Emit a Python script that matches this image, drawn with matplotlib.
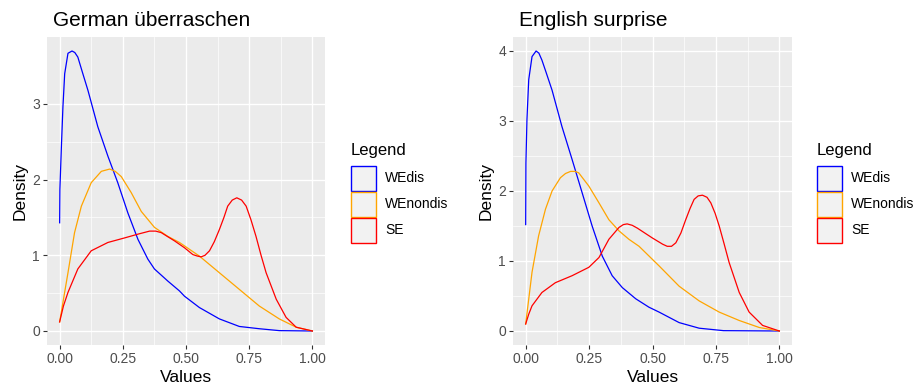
import matplotlib
matplotlib.use("Agg")
import matplotlib.pyplot as plt
from matplotlib.patches import Rectangle

plt.rcParams['font.family'] = ['Liberation Sans', 'DejaVu Sans']

# density values
x_de_dis = [0.0, 0.001, 0.007, 0.013, 0.02, 0.033, 0.049, 0.06, 0.072, 0.09, 0.112, 0.151, 0.191, 0.23, 0.27,
            0.31, 0.349, 0.375, 0.428, 0.474, 0.494, 0.553, 0.632, 0.711, 0.79, 0.869, 1.0]
de_dis = [1.43, 1.87, 2.44, 2.96, 3.40, 3.67, 3.70, 3.68, 3.62, 3.42, 3.18, 2.70, 2.31, 1.96, 1.56,
          1.21, 0.95, 0.82, 0.66, 0.53, 0.46, 0.31, 0.16, 0.06, 0.03, 0.005, 0.0]

x_de_nondis = [0.0, 0.033, 0.059, 0.086, 0.125, 0.165, 0.198, 0.22, 0.244, 0.283, 0.323, 0.375, 0.428, 0.474,
               0.553, 0.632, 0.711, 0.79, 0.869, 0.936, 1.0]
de_nondis = [0.12, 0.77, 1.30, 1.65, 1.96, 2.11, 2.14, 2.11, 2.04, 1.83, 1.58, 1.37, 1.25, 1.17,
             0.99, 0.77, 0.55, 0.33, 0.16, 0.05, 0.0]

x_de_se = [0.0, 0.015, 0.033, 0.072, 0.125, 0.191, 0.257, 0.31, 0.356, 0.38, 0.402, 0.455, 0.494, 0.527, 0.545,
           0.56, 0.575, 0.593, 0.612, 0.632, 0.65, 0.665, 0.683, 0.701, 0.72, 0.738, 0.757, 0.777, 0.797, 0.817,
           0.857, 0.896, 0.936, 1.0]
de_se = [0.12, 0.33, 0.51, 0.82, 1.06, 1.17, 1.23, 1.28, 1.32, 1.32, 1.30, 1.19, 1.10, 1.01, 0.99,
         0.98, 1.00, 1.06, 1.18, 1.34, 1.50, 1.65, 1.73, 1.76, 1.73, 1.65, 1.47, 1.25, 1.00, 0.77,
         0.42, 0.18, 0.05, 0.0]

x_en_dis = [0.0, 0.001, 0.005, 0.012, 0.025, 0.041, 0.052, 0.064, 0.08, 0.104, 0.143, 0.183, 0.223, 0.262, 0.302,
            0.341, 0.381, 0.434, 0.486, 0.526, 0.605, 0.684, 0.78, 1.0]
en_dis = [1.52, 2.40, 3.02, 3.59, 3.92, 4.00, 3.97, 3.87, 3.70, 3.44, 2.92, 2.45, 1.97, 1.50, 1.07,
          0.79, 0.62, 0.46, 0.34, 0.27, 0.12, 0.04, 0.005, 0.0]

x_en_nondis = [0.0, 0.025, 0.051, 0.078, 0.104, 0.137, 0.157, 0.177, 0.195, 0.209, 0.249, 0.289, 0.328, 0.368,
               0.407, 0.447, 0.526, 0.605, 0.684, 0.763, 0.842, 0.921, 1.0]
en_nondis = [0.10, 0.84, 1.36, 1.74, 2.00, 2.19, 2.25, 2.28, 2.28, 2.26, 2.07, 1.83, 1.59, 1.43,
             1.31, 1.21, 0.93, 0.64, 0.43, 0.27, 0.15, 0.05, 0.0]

x_en_se = [0.0, 0.012, 0.025, 0.064, 0.117, 0.183, 0.249, 0.289, 0.328, 0.368, 0.385, 0.4, 0.42, 0.44, 0.499,
           0.54, 0.558, 0.575, 0.592, 0.612, 0.631, 0.648, 0.664, 0.68, 0.697, 0.715, 0.73, 0.747, 0.763,
           0.782, 0.802, 0.842, 0.881, 0.934, 1.0]
en_se = [0.10, 0.24, 0.36, 0.55, 0.69, 0.79, 0.91, 1.05, 1.31, 1.48, 1.52, 1.53, 1.51, 1.47, 1.33,
         1.24, 1.21, 1.21, 1.26, 1.40, 1.59, 1.75, 1.88, 1.93, 1.94, 1.91, 1.83, 1.68, 1.50,
         1.25, 0.98, 0.55, 0.27, 0.08, 0.0]

series_names = ["WEdis", "WEnondis", "SE"]
series_colors = ["blue", "orange", "red"]

panels = [
    ("German überraschen", [(x_de_dis, de_dis), (x_de_nondis, de_nondis), (x_de_se, de_se)],
     [0, 1, 2, 3], (-0.185, 3.885)),
    ("English surprise", [(x_en_dis, en_dis), (x_en_nondis, en_nondis), (x_en_se, en_se)],
     [0, 1, 2, 3, 4], (-0.2, 4.2)),
]

W, H = 917, 390
fig = plt.figure(figsize=(W / 100, H / 100), dpi=100)

# pixel boxes of the panels: left, top, right, bottom
boxes = [(47, 37, 325, 345), (513, 37, 792, 345)]
legend_x = [351, 817]

for (title, curves, yticks, ylim), (l, t, r, b), lx in zip(panels, boxes, legend_x):
    ax = fig.add_axes([l / W, 1 - b / H, (r - l) / W, (b - t) / H])
    ax.set_facecolor("#EBEBEB")
    for (xs, ys), c in zip(curves, series_colors):
        ax.plot(xs, ys, color=c, lw=0.9)
    ax.set_xlim(-0.05, 1.05)
    ax.set_ylim(*ylim)
    ax.set_xticks([0, 0.25, 0.5, 0.75, 1.0])
    ax.set_xticklabels(["0.00", "0.25", "0.50", "0.75", "1.00"])
    ax.set_yticks(yticks)
    ax.set_xticks([0.125, 0.375, 0.625, 0.875], minor=True)
    ax.set_yticks([v + 0.5 for v in yticks[:-1]], minor=True)
    ax.grid(True, which="major", color="white", lw=1.0)
    ax.grid(True, which="minor", color="white", lw=0.5)
    ax.set_axisbelow(True)
    for s in ax.spines.values():
        s.set_visible(False)
    ax.tick_params(which="major", length=3, color="#333333", labelcolor="#4D4D4D", labelsize=10, pad=2)
    ax.tick_params(which="minor", length=0)
    ax.set_xlabel("Values", fontsize=12.5, labelpad=3)
    ax.set_ylabel("Density", fontsize=12.5, labelpad=3)
    ax.set_title(title, fontsize=15, loc="left", x=0.02, pad=8)

    # legend drawn in figure pixels
    fig.text(lx / W, 1 - 150 / H, "Legend", fontsize=12, va="center", ha="left")
    for i, (name, c) in enumerate(zip(series_names, series_colors)):
        top = 166 + i * 26
        fig.patches.append(Rectangle((lx / W, 1 - (top + 25) / H), 25 / W, 25 / H,
                                     transform=fig.transFigure, facecolor="#F2F2F2",
                                     edgecolor=c, lw=1.0))
        fig.text((lx + 34) / W, 1 - (top + 12.5) / H, name, fontsize=10, va="center", ha="left")

fig.savefig("out.png", dpi=100)
